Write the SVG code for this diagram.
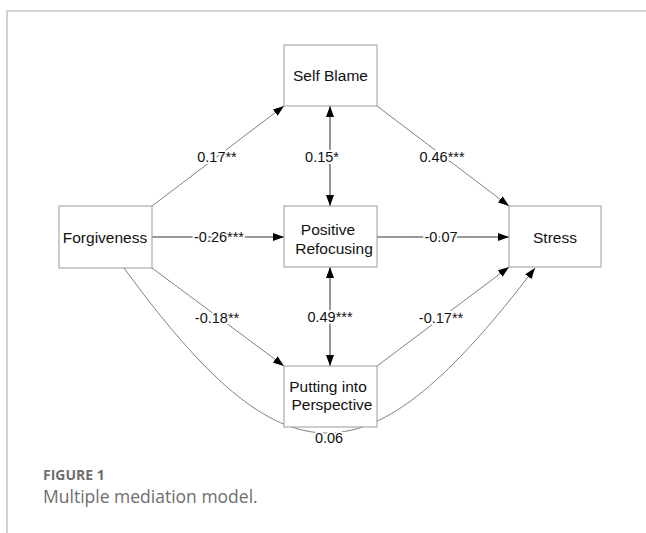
<svg xmlns="http://www.w3.org/2000/svg" width="646" height="533" viewBox="0 0 646 533">
<style>
.frame{fill:none;stroke:#c4c4c4;stroke-width:1.5}
.box{fill:#fff;stroke:#9a9a9a;stroke-width:1}
.nt{font-family:"Liberation Sans",Arial,sans-serif;font-size:15.5px;fill:#111;text-anchor:middle}
.el{font-family:"Liberation Sans",Arial,sans-serif;font-size:14.5px;fill:#111;text-anchor:middle;stroke:#fff;stroke-width:4;paint-order:stroke;stroke-linejoin:round}
.c{fill:none;stroke:#808080;stroke-width:1}
.cd{fill:none;stroke:#333;stroke-width:1}
.cap1{font-family:"Open Sans","Noto Sans",sans-serif;font-size:14px;font-weight:bold;fill:#6e6e6e}
.cap2{font-family:"Open Sans","Noto Sans",sans-serif;font-size:17.5px;fill:#6e6e6e}
</style>
<defs>
<marker id="ah" markerUnits="userSpaceOnUse" markerWidth="11" markerHeight="8" refX="11" refY="4" orient="auto-start-reverse">
<path d="M0,0 L11,4 L0,8 z" fill="#000"/>
</marker>
</defs>
<path class="frame" d="M7,533 V11 H646"/>
<g id="connectors">
<line class="c" x1="152" y1="206" x2="284" y2="106" marker-end="url(#ah)"/>
<line class="cd" x1="330" y1="106" x2="330" y2="206" marker-start="url(#ah)" marker-end="url(#ah)"/>
<line class="c" x1="377" y1="106" x2="509" y2="206" marker-end="url(#ah)"/>
<line class="cd" x1="152" y1="237" x2="284" y2="237" marker-end="url(#ah)"/>
<line class="cd" x1="377" y1="237" x2="509" y2="237" marker-end="url(#ah)"/>
<line class="c" x1="152" y1="268" x2="284" y2="366" marker-end="url(#ah)"/>
<line class="cd" x1="330" y1="267" x2="330" y2="366" marker-start="url(#ah)" marker-end="url(#ah)"/>
<line class="c" x1="377" y1="366" x2="509" y2="267" marker-end="url(#ah)"/>
<path class="c" d="M124,268 C285,488 367,488 535,268" marker-end="url(#ah)"/>
<text class="el" x="217" y="162">0.17**</text>
<text class="el" x="322" y="162">0.15*</text>
<text class="el" x="442" y="162">0.46***</text>
<text class="el" x="219" y="242">-0.26***</text>
<text class="el" x="441" y="242">-0.07</text>
<text class="el" x="217" y="323">-0.18**</text>
<text class="el" x="330" y="322">0.49***</text>
<text class="el" x="441" y="322.5">-0.17**</text>
<text class="el" x="329" y="443">0.06</text>
</g>
<g id="self-blame">
<rect class="box" x="284" y="45" width="93" height="61"/>
<text class="nt" x="330.5" y="81">Self Blame</text>
</g>
<g id="forgiveness">
<rect class="box" x="59" y="206" width="93" height="62"/>
<text class="nt" x="105" y="242.5">Forgiveness</text>
</g>
<g id="positive-refocusing">
<rect class="box" x="284" y="206" width="93" height="61"/>
<text class="nt" x="328" y="234.5">Positive</text>
<text class="nt" x="334" y="253.5">Refocusing</text>
</g>
<g id="stress">
<rect class="box" x="509" y="206" width="92" height="61"/>
<text class="nt" x="555" y="242.5">Stress</text>
</g>
<g id="putting-into-perspective">
<rect class="box" x="284" y="366" width="93" height="61"/>
<text class="nt" x="328" y="391.5">Putting into</text>
<text class="nt" x="332" y="410">Perspective</text>
</g>
<text class="cap1" x="43" y="480">FIGURE 1</text>
<text class="cap2" x="43" y="503">Multiple mediation model.</text>
</svg>
